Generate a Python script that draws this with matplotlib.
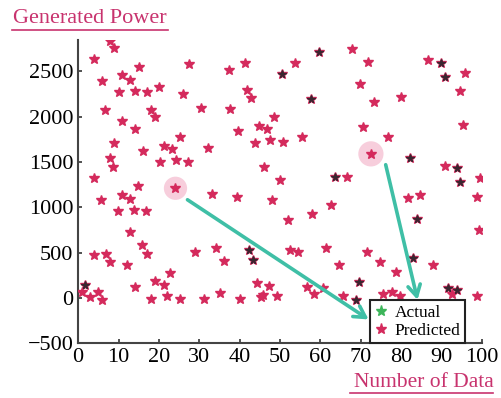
import numpy as np
import matplotlib
matplotlib.use("Agg")
import matplotlib.pyplot as plt
from matplotlib.lines import Line2D

plt.rcParams['font.family'] = ['Liberation Serif', 'DejaVu Serif']

# predicted values (index, power)
pred_x = [7.9, 8.8, 3.8, 15.0, 10.8, 12.9, 5.9, 19.9, 10.0, 14.0, 17.0, 6.7, 18.0, 19.1, 10.8, 14.1,
          8.8, 16.0, 21.2, 23.2, 7.8, 8.6, 20.2, 3.8, 14.8,
          27.4, 41.2, 37.3, 26.0, 41.7, 42.7, 30.4, 37.7, 48.5, 44.7, 46.8, 39.6, 25.1, 43.7, 47.6,
          32.1, 24.3, 27.2, 46.0, 24.1,
          59.6, 67.7, 53.6, 71.9, 50.5, 69.8, 57.6, 73.3, 70.6, 55.5, 50.8, 72.5, 50.1, 63.6, 66.7,
          86.7, 89.8, 90.8, 95.9, 94.6, 79.9, 95.4, 76.7, 82.2, 90.8, 93.8, 94.6, 99.6,
          5.7, 10.8, 12.9, 9.8, 13.9, 16.9, 12.9, 15.8, 17.0, 3.8, 6.9, 7.9, 12.1, 22.8, 1.7, 0.9,
          5.0, 3.0, 6.0, 14.0, 19.1, 21.2, 18.1, 22.0,
          33.2, 39.4, 48.1, 29.0, 34.2, 36.2, 42.3, 43.3, 44.2, 47.2, 45.8, 45.2, 35.1, 25.1, 31.1, 40.2,
          52.0, 58.0, 62.7, 52.4, 54.5, 61.5, 64.6, 71.6, 69.6, 49.3, 56.6, 58.4, 60.7, 65.7, 68.7,
          81.7, 84.7, 98.8, 83.8, 99.3, 82.8, 87.8, 74.8, 78.7, 75.6, 77.8, 79.7, 91.5, 93.8, 92.7, 98.8]
pred_y = [2837, 2755, 2633, 2552, 2459, 2411, 2392, 2330, 2274, 2289, 2270, 2078, 2070, 1992, 1948, 1867,
          1707, 1622, 1681, 1644, 1541, 1448, 1496, 1326, 1237,
          2585, 2596, 2515, 2252, 2292, 2207, 2096, 2085, 1996, 1903, 1867, 1844, 1781, 1715, 1744,
          1652, 1522, 1496, 1448, 1210,
          2719, 2744, 2596, 2603, 2474, 2366, 2200, 2159, 1892, 1781, 1719, 1590, 1300, 1337, 1330,
          2622, 2589, 2441, 2485, 2289, 2219, 1911, 1781, 1548, 1459, 1430, 1281, 1319,
          1078, 1141, 1096, 955, 974, 955, 726, 578, 485, 478, 485, 400, 363, 274, 144, 59,
          67, 4, -22, 115, 181, 141, -8, 15,
          1152, 1115, 1078, 511, 548, 404, 533, 422, 163, 126, 30, 4, 48, -8, -8, -8,
          863, 922, 1030, 530, 511, 548, 367, 511, 170, 22, 115, 41, 104, 22, -22,
          1108, 1133, 1115, 867, 752, 437, 363, 393, 281, 41, 67, 22, 107, 85, 41, 15]

# actual values where they differ visibly from the prediction
act_x = [59.6, 50.5, 57.6, 63.6, 89.8, 90.8, 82.2, 93.8, 94.6, 1.7, 42.3, 43.3, 69.6, 68.7, 83.8, 82.8, 91.5, 93.8]
act_y = [2719, 2474, 2200, 1337, 2589, 2441, 1548, 1430, 1281, 144, 533, 422, 170, -22, 867, 437, 107, 85]

# highlighted points and where the arrows point
hl_x = [24.1, 72.5]
hl_y = [1210, 1590]
tail_x = [26.5, 76.0]
tail_y = [1100, 1500]
tip_x = [72.5, 84.2]
tip_y = [-256, -52]

red = '#d42a5c'
pink = '#c8336e'
teal = '#3fbfa6'

fig = plt.figure(figsize=(5.01, 3.98), dpi=100)
ax = fig.add_axes([0.156, 0.138, 0.806, 0.762])

ax.scatter(hl_x, hl_y, s=[280, 330], color='#f6c2d4', alpha=0.8, zorder=1, linewidths=0)
ax.plot(pred_x, pred_y, linestyle='none', marker='*', markersize=7, color=red, zorder=3)
ax.plot(act_x, act_y, linestyle='none', marker='*', markersize=5.5, color='#3a2630', zorder=4)

for i in range(2):
    ax.annotate('', xy=(tip_x[i], tip_y[i]), xytext=(tail_x[i], tail_y[i]),
                arrowprops=dict(arrowstyle='->,head_length=0.8,head_width=0.45',
                                color=teal, lw=2.6), zorder=5)

ax.set_xlim(0, 100)
ax.set_ylim(-500, 2850)
ax.set_xticks(np.arange(0, 101, 10))
ax.set_yticks(np.arange(-500, 2501, 500))
ax.tick_params(direction='in', labelsize=16, length=3, width=1.2, colors='#333333', labelcolor='black')
for s in ['top', 'right']:
    ax.spines[s].set_visible(False)
for s in ['left', 'bottom']:
    ax.spines[s].set_linewidth(1.5)
    ax.spines[s].set_color('#444444')

handles = [Line2D([], [], linestyle='none', marker='*', markersize=8, color='#3cb55a'),
           Line2D([], [], linestyle='none', marker='*', markersize=8, color=red)]
leg = ax.legend(handles, ['Actual', 'Predicted'], loc='lower left', bbox_to_anchor=(0.722, 0.0),
                borderaxespad=0, fontsize=12.5, handlelength=0.8, handletextpad=0.4,
                labelspacing=0.1, borderpad=0.25, fancybox=False, framealpha=1)
leg.get_frame().set_edgecolor('#222222')
leg.get_frame().set_linewidth(1.5)
leg.set_zorder(6)

fig.text(0.026, 0.953, 'Generated Power', color=pink, fontsize=16, ha='left', va='center')
fig.add_artist(Line2D([0.024, 0.335], [0.925, 0.925], color=pink, lw=1.2))
fig.text(0.985, 0.04, 'Number of Data', color=pink, fontsize=15.5, ha='right', va='center')
fig.add_artist(Line2D([0.698, 0.985], [0.012, 0.012], color=pink, lw=1.2))

fig.savefig('out.png', dpi=100)
